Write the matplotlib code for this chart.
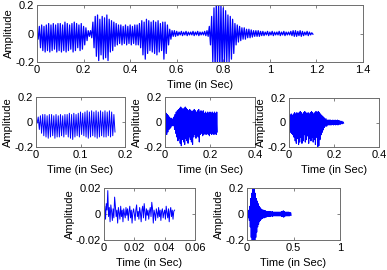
import numpy as np
import matplotlib
matplotlib.use("Agg")
import matplotlib.pyplot as plt
from matplotlib.ticker import FuncFormatter

plt.rcParams['font.family'] = ['Liberation Sans', 'DejaVu Sans']

# ---- data: positive / negative peak amplitudes per sample step ----
top_step = 0.01
top_upper = [0.02,0.05,0.06,0.05,0.06,0.07,0.06,0.07,0.06,0.07,0.07,0.06,0.08,0.07,0.06,0.07,0.08,0.07,0.06,0.07,0.05,0.04,
             0.02,0.02,
             0.08,0.12,0.13,0.10,0.12,0.11,0.13,0.10,0.09,
             0.08,0.07,0.06,0.06,0.05,0.06,0.05,0.06,0.05,0.06,0.06,0.07,
             0.09,0.08,0.10,0.09,0.08,0.09,0.08,0.09,0.07,0.08,0.08,0.06,0.03,
             0.02,0.02,0.015,0.01,0.015,0.01,0.015,0.01,0.01,0.015,0.01,0.015,0.01,0.01,0.015,0.02,
             0.05,0.12,0.18,0.22,0.22,0.20,0.18,0.16,0.13,0.12,0.10,0.07,0.06,
             0.05,0.04,0.04,0.03,0.03,0.025,0.02,0.02,0.02,
             0.015,0.015,0.01,0.015,0.01,0.015,0.01,0.01,0.015,0.01,0.015,0.01,0.01,0.015,0.02,0.02,0.015,0.02,0.015,0.01,0.015,0.01,0.005]
top_lower = [-0.04,-0.10,-0.12,-0.13,-0.12,-0.13,-0.12,-0.11,-0.13,-0.12,-0.13,-0.12,-0.13,-0.12,-0.11,-0.13,-0.12,-0.10,-0.12,-0.11,-0.08,-0.05,
             -0.02,-0.03,
             -0.10,-0.16,-0.19,-0.15,-0.18,-0.17,-0.19,-0.13,-0.12,
             -0.09,-0.08,-0.07,-0.08,-0.07,-0.08,-0.07,-0.08,-0.07,-0.08,-0.08,-0.10,
             -0.15,-0.18,-0.14,-0.12,-0.13,-0.14,-0.15,-0.13,-0.12,-0.18,-0.14,-0.08,-0.04,
             -0.02,-0.02,-0.015,-0.01,-0.015,-0.01,-0.015,-0.01,-0.01,-0.015,-0.01,-0.015,-0.01,-0.01,-0.015,-0.02,
             -0.08,-0.20,-0.25,-0.25,-0.25,-0.25,-0.22,-0.20,-0.20,-0.18,-0.14,-0.08,-0.06,
             -0.05,-0.04,-0.04,-0.03,-0.03,-0.025,-0.02,-0.02,-0.02,
             -0.015,-0.015,-0.01,-0.015,-0.01,-0.015,-0.01,-0.01,-0.015,-0.01,-0.015,-0.01,-0.01,-0.015,-0.02,-0.02,-0.015,-0.02,-0.015,-0.01,-0.015,-0.01,-0.005]

p1_step = 0.005
p1_upper = [0.01,0.04,0.05,0.06,0.06,0.05,0.06,0.06,0.05,0.06,0.05,0.06,0.05,0.06,0.06,0.07,0.06,0.07,
            0.06,0.07,0.08,0.07,0.08,0.09,0.08,0.09,0.08,0.09,0.08,0.09,0.08,0.09,0.08,0.09,0.08,0.06]
p1_lower = [-0.01,-0.06,-0.09,-0.11,-0.12,-0.13,-0.12,-0.11,-0.13,-0.12,-0.12,-0.11,-0.12,-0.10,-0.12,-0.13,-0.14,-0.12,
            -0.11,-0.12,-0.10,-0.11,-0.12,-0.13,-0.12,-0.11,-0.12,-0.13,-0.12,-0.11,-0.12,-0.12,-0.11,-0.12,-0.11,-0.08]

p2_step = 0.005
p2_upper = [0.08,0.07,0.06,0.05,0.04,0.03,0.03,0.02,0.04,0.06,0.08,0.09,0.10,0.11,0.12,0.11,0.10,0.11,0.12,0.11,
            0.10,0.09,0.10,0.09,0.08,0.09,0.10,0.09,0.08,0.09,0.10,0.08,0.09,0.08,0.09,0.07,0.08,0.07,0.08,0.07,
            0.08,0.07,0.08,0.07,0.08,0.07,0.08]
p2_lower = [-0.09,-0.10,-0.08,-0.06,-0.05,-0.04,-0.03,-0.03,-0.06,-0.09,-0.12,-0.15,-0.13,-0.17,-0.19,-0.14,-0.16,-0.18,-0.13,-0.15,
            -0.17,-0.12,-0.14,-0.16,-0.18,-0.12,-0.10,-0.13,-0.11,-0.12,-0.16,-0.10,-0.09,-0.11,-0.10,-0.09,-0.10,-0.09,-0.10,-0.11,
            -0.09,-0.10,-0.09,-0.10,-0.09,-0.10,-0.08]

p3_step = 0.005
p3_upper = [0.05,0.06,0.07,0.06,0.07,0.08,0.07,0.08,0.07,0.08,0.09,0.08,0.07,0.08,0.09,0.08,0.07,0.08,0.07,0.08,
            0.09,0.08,0.07,0.08,0.09,0.08,0.09,0.08,0.07,0.06,0.05,0.04,0.03,0.03,0.02,0.02,0.02,0.02,0.015,0.02,
            0.015,0.02,0.015,0.02,0.015,0.015,0.01,0.01,0.005]
p3_lower = [-0.06,-0.08,-0.09,-0.10,-0.12,-0.15,-0.17,-0.13,-0.18,-0.16,-0.12,-0.17,-0.15,-0.10,-0.16,-0.14,-0.11,-0.17,-0.13,-0.15,
            -0.12,-0.16,-0.14,-0.18,-0.12,-0.20,-0.19,-0.14,-0.10,-0.08,-0.06,-0.04,-0.03,-0.03,-0.02,-0.02,-0.02,-0.02,-0.015,-0.02,
            -0.015,-0.02,-0.015,-0.02,-0.015,-0.015,-0.01,-0.01,-0.005]

p4_step = 0.0005
p4_values = [0.000,0.006,-0.004,0.008,0.003,0.018,-0.002,0.005,-0.006,0.007,
             0.002,-0.005,0.004,-0.003,0.013,0.006,-0.002,0.003,-0.007,0.005,
             0.001,-0.004,0.006,-0.002,0.003,-0.006,0.004,0.000,-0.003,0.005,
             -0.001,0.004,-0.005,0.002,0.006,-0.003,0.003,-0.007,0.001,0.004,
             0.000,-0.005,0.003,0.007,-0.002,0.002,-0.004,0.005,0.001,-0.006,
             0.003,0.006,-0.003,0.008,0.002,-0.005,0.004,-0.001,0.003,-0.004,
             0.002,0.005,-0.002,0.009,0.004,-0.007,0.003,0.000,-0.005,0.004,
             0.001,-0.003,0.005,-0.002,0.003,-0.005,0.002,0.004,-0.003,0.001,
             0.003,-0.004,0.006,0.001,-0.003,0.004,-0.006,0.002,0.005,-0.002,
             0.003,-0.004,0.002,0.003]

p5_step = 0.01
p5_upper = [0.02,0.02,0.03,0.06,0.12,0.16,0.20,0.22,0.20,0.16,0.12,0.10,0.08,0.06,0.05,0.04,0.035,0.03,0.03,0.025,
            0.025,0.02,0.02,0.02,0.02,0.02,0.015,0.02,0.015,0.015,0.015,0.015,0.015,0.015,0.015,0.015,0.015,0.02,0.02,0.025,
            0.02,0.015,0.015,0.015,0.015,0.015,0.01,0.01]
p5_lower = [-0.02,-0.03,-0.05,-0.10,-0.18,-0.22,-0.25,-0.25,-0.22,-0.18,-0.14,-0.10,-0.08,-0.06,-0.05,-0.04,-0.035,-0.03,-0.03,-0.025,
            -0.025,-0.02,-0.02,-0.02,-0.02,-0.02,-0.015,-0.02,-0.015,-0.015,-0.015,-0.015,-0.015,-0.015,-0.015,-0.015,-0.015,-0.02,-0.02,-0.025,
            -0.02,-0.015,-0.015,-0.015,-0.015,-0.015,-0.01,-0.01]

BLUE = '#0000ff'
SPINE = '#6e6e6e'
FS = 8


def zigzag(step, upper, lower):
    n = len(upper)
    t = np.arange(n) * step
    x = np.empty(2 * n)
    y = np.empty(2 * n)
    x[0::2] = t
    x[1::2] = t + step / 2
    y[0::2] = upper
    y[1::2] = lower
    return x, y


fmt = FuncFormatter(lambda v, p: ('%g' % round(v, 6)))


def style(ax, xlim, xticks, ylim, yticks):
    ax.set_xlim(*xlim)
    ax.set_ylim(*ylim)
    ax.set_xticks(xticks)
    ax.set_yticks(yticks)
    ax.xaxis.set_major_formatter(fmt)
    ax.yaxis.set_major_formatter(fmt)
    ax.tick_params(direction='in', length=2, width=0.6, top=True, right=True,
                   labelsize=FS, pad=2, color=SPINE)
    for s in ax.spines.values():
        s.set_color(SPINE)
        s.set_linewidth(0.7)
    ax.set_xlabel('Time (in Sec)', fontsize=FS, labelpad=4)
    ax.set_ylabel('Amplitude', fontsize=FS, labelpad=1)


W, H = 387, 270
fig = plt.figure(figsize=(W / 100, H / 100), dpi=100)


def axes_px(l, t, r, b):
    return fig.add_axes([l / W, 1 - b / H, (r - l) / W, (b - t) / H])


ax0 = axes_px(37, 5, 363, 62)
x, y = zigzag(top_step, top_upper, top_lower)
ax0.plot(x, y, color=BLUE, lw=0.9)
style(ax0, (0, 1.4), np.arange(0, 1.41, 0.2), (-0.2, 0.2), [-0.2, 0, 0.2])

ax1 = axes_px(36, 97, 125, 147)
x, y = zigzag(p1_step, p1_upper, p1_lower)
ax1.plot(x, y, color=BLUE, lw=0.7)
style(ax1, (0, 0.2), [0, 0.1, 0.2], (-0.2, 0.2), [-0.2, 0, 0.2])

ax2 = axes_px(165, 97, 255, 147)
x, y = zigzag(p2_step, p2_upper, p2_lower)
ax2.plot(x, y, color=BLUE, lw=0.8)
style(ax2, (0, 0.4), [0, 0.2, 0.4], (-0.2, 0.2), [-0.2, 0, 0.2])

ax3 = axes_px(289, 98, 379, 147)
x, y = zigzag(p3_step, p3_upper, p3_lower)
ax3.plot(x, y, color=BLUE, lw=0.8)
style(ax3, (0, 0.4), [0, 0.2, 0.4], (-0.2, 0.2), [-0.2, 0, 0.2])

ax4 = axes_px(104, 188, 195, 240)
t4 = np.arange(len(p4_values)) * p4_step
ax4.plot(t4, p4_values, color=BLUE, lw=0.7)
style(ax4, (0, 0.06), [0, 0.02, 0.04, 0.06], (-0.02, 0.02), [-0.02, 0, 0.02])

ax5 = axes_px(247, 188, 340, 240)
x, y = zigzag(p5_step, p5_upper, p5_lower)
ax5.plot(x, y, color=BLUE, lw=0.7)
style(ax5, (0, 1), [0, 0.5, 1], (-0.2, 0.2), [-0.2, 0, 0.2])

fig.savefig('out.png', dpi=100)
